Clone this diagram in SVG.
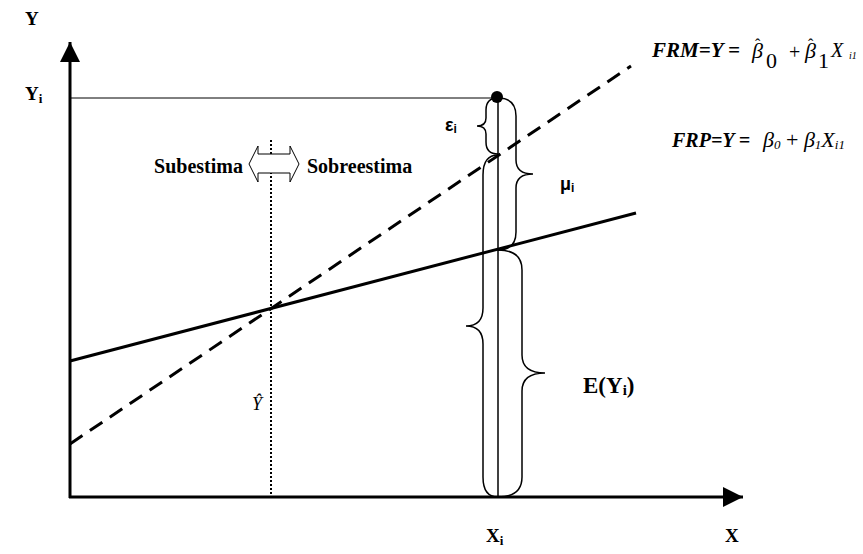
<svg xmlns="http://www.w3.org/2000/svg" width="863" height="554" viewBox="0 0 863 554">
<style>
.lbl{font-family:"Liberation Serif","Times New Roman",serif;font-weight:bold;fill:#000}
.sans{font-family:"Liberation Sans",Arial,sans-serif;font-weight:bold;fill:#000}
.eq{font-family:"Liberation Serif","Times New Roman",serif;fill:#000}
.brace{fill:none;stroke:#000;stroke-width:1.5}
.thick{stroke:#000;stroke-width:3;fill:none}
</style>
<defs>
<marker id="ah" markerWidth="20" markerHeight="20" refX="0" refY="0" orient="auto" markerUnits="userSpaceOnUse" viewBox="-20 -10 20 20">
<path d="M-20,-10 L0,0 L-20,10 Z" fill="#000"/>
</marker>
</defs>
<rect width="863" height="554" fill="#fff"/>
<g id="connectors">
<line x1="70" y1="498" x2="70" y2="42" class="thick" marker-end="url(#ah)"/>
<line x1="69" y1="497" x2="743" y2="497" class="thick" marker-end="url(#ah)"/>
<line x1="70" y1="98" x2="498" y2="98" stroke="#000" stroke-width="1"/>
<line x1="498" y1="98" x2="498" y2="497" stroke="#000" stroke-width="1.5"/>
<line x1="70" y1="361" x2="636" y2="213" class="thick"/>
<line x1="70" y1="444" x2="631" y2="66" class="thick" stroke-dasharray="15 9"/>
<line x1="271" y1="140" x2="271" y2="497" stroke="#000" stroke-width="2" stroke-dasharray="2 2"/>
</g>
<g id="braces">
<path class="brace" d="M498,98 Q486,98 486,110 L486,118 Q486,126 477,126 Q486,126 486,134 L486,142 Q486,154 498,154"/>
<path class="brace" d="M498,98 Q516,98 516,116 L516,160 Q516,174 533,174 Q516,174 516,188 L516,232 Q516,250 498,250"/>
<path class="brace" d="M498,155 Q483,155 483,175 L483,308 Q483,326 466,326 Q483,326 483,344 L483,477 Q483,497 498,497"/>
<path class="brace" d="M498,250 Q522,250 522,270 L522,355 Q522,373 545,373 Q522,373 522,391 L522,477 Q522,497 498,497"/>
</g>
<g id="point"><circle cx="497" cy="97" r="6" fill="#000"/></g>
<g id="double-arrow">
<path d="M249,164 L258,146 L258,154 L290,154 L290,146 L299,164 L290,182 L290,173 L258,173 L258,182 Z" fill="#fff" stroke="#000" stroke-width="1"/>
<text class="lbl" x="243" y="173" font-size="20" text-anchor="end">Subestima</text>
<text class="lbl" x="307" y="173" font-size="20">Sobreestima</text>
</g>
<g id="axis-labels">
<text class="lbl" x="25" y="25" font-size="19">Y</text>
<text class="lbl" x="25" y="100" font-size="19">Y<tspan font-size="13" dy="3">i</tspan></text>
<text class="lbl" x="725" y="542" font-size="19">X</text>
<text class="lbl" x="486" y="542" font-size="19">X<tspan font-size="13" dy="3">i</tspan></text>
</g>
<g id="label-eps"><text class="sans" x="445" y="131" font-size="18">ε<tspan font-size="12" dy="2">i</tspan></text></g>
<g id="label-mu"><text class="sans" x="560" y="190" font-size="18">μ<tspan font-size="12" dy="2">i</tspan></text></g>
<g id="label-yhat"><text class="eq" x="252" y="410" font-size="18" font-style="italic">Ŷ</text></g>
<g id="label-eyi"><text class="lbl" x="583" y="393" font-size="23">E(Y<tspan font-size="15" dy="2">i</tspan><tspan dy="-2">)</tspan></text></g>
<g id="eq-frm">
<text class="lbl" x="652" y="57" font-size="21" font-style="italic">FRM=Y =</text>
<text class="eq" x="752" y="58" font-size="22" font-style="italic">β</text>
<text class="eq" x="755" y="50" font-size="16">ˆ</text>
<text class="eq" x="766" y="68" font-size="22">0</text>
<text class="eq" x="789" y="59" font-size="20">+</text>
<text class="eq" x="805" y="58" font-size="22" font-style="italic">β</text>
<text class="eq" x="808" y="50" font-size="16">ˆ</text>
<text class="eq" x="818" y="68" font-size="22">1</text>
<text class="eq" x="831" y="57" font-size="20" font-style="italic">X</text>
<text class="eq" x="849" y="59" font-size="10" font-style="italic">i1</text>
</g>
<g id="eq-frp">
<text class="lbl" x="672" y="147" font-size="20" font-style="italic">FRP=Y =</text>
<text class="eq" x="763" y="147" font-size="22" font-style="italic">β<tspan font-size="13" dy="2">0</tspan><tspan dy="-2" font-style="normal"> + </tspan>β<tspan font-size="13" dy="2">1</tspan><tspan dy="-2">X</tspan><tspan font-size="13" dy="2">i1</tspan></text>
</g>
</svg>
